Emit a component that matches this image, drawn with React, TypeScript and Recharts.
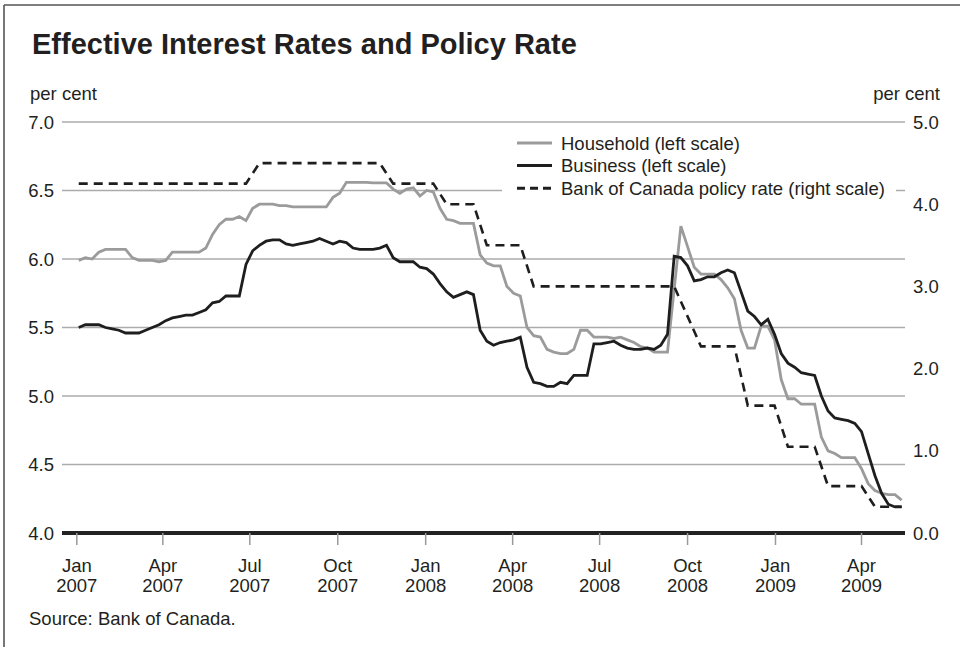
import React from 'react';
import { LineChart, Line, XAxis, YAxis, CartesianGrid, Legend } from 'recharts';

// Weekly observations (Wednesdays), first one on 3 Jan 2007 = day 2 counted from 1 Jan 2007
const FIRST_OBS_DAY = 2;
const DAYS_PER_WEEK = 7;

// Household effective interest rate (left scale, per cent), weekly
const household = [
  5.99, 6.01, 6.0, 6.05, 6.07, 6.07, 6.07, 6.07, 6.01, 5.99,
  5.99, 5.99, 5.98, 5.99, 6.05, 6.05, 6.05, 6.05, 6.05, 6.08,
  6.18, 6.25, 6.29, 6.29, 6.31, 6.28, 6.37, 6.4, 6.4, 6.4,
  6.39, 6.39, 6.38, 6.38, 6.38, 6.38, 6.38, 6.38, 6.45, 6.48,
  6.56, 6.56, 6.56, 6.56, 6.555, 6.555, 6.555, 6.51, 6.48, 6.51,
  6.52, 6.46, 6.5, 6.49, 6.37, 6.29, 6.28, 6.26, 6.26, 6.26,
  6.03, 5.97, 5.95, 5.95, 5.8, 5.75, 5.73, 5.5, 5.44, 5.43,
  5.34, 5.32, 5.31, 5.31, 5.34, 5.48, 5.48, 5.43, 5.43, 5.43,
  5.42, 5.43, 5.41, 5.39, 5.36, 5.35, 5.32, 5.32, 5.32, 5.78,
  6.24, 6.09, 5.94, 5.89, 5.89, 5.89, 5.85, 5.79, 5.71, 5.48,
  5.35, 5.35, 5.51, 5.51, 5.41, 5.12, 4.98, 4.98, 4.94, 4.94,
  4.94, 4.7, 4.6, 4.58, 4.55, 4.55, 4.55, 4.47, 4.36, 4.31,
  4.29, 4.28, 4.28, 4.24,
];

// Business effective interest rate (left scale, per cent), weekly
const business = [
  5.5, 5.52, 5.52, 5.52, 5.5, 5.49, 5.48, 5.46, 5.46, 5.46,
  5.48, 5.5, 5.52, 5.55, 5.57, 5.58, 5.59, 5.59, 5.61, 5.63,
  5.68, 5.69, 5.73, 5.73, 5.73, 5.96, 6.06, 6.1, 6.13, 6.14,
  6.14, 6.11, 6.1, 6.11, 6.12, 6.13, 6.15, 6.13, 6.11, 6.13,
  6.12, 6.08, 6.07, 6.07, 6.07, 6.08, 6.1, 6.01, 5.98, 5.98,
  5.98, 5.94, 5.93, 5.89, 5.82, 5.76, 5.72, 5.74, 5.76, 5.74,
  5.48, 5.4, 5.37, 5.39, 5.4, 5.41, 5.43, 5.21, 5.1, 5.09,
  5.07, 5.07, 5.1, 5.09, 5.15, 5.15, 5.15, 5.38, 5.38, 5.39,
  5.4, 5.37, 5.35, 5.34, 5.34, 5.35, 5.34, 5.37, 5.45, 6.02,
  6.01, 5.95, 5.84, 5.85, 5.87, 5.87, 5.9, 5.92, 5.9, 5.76,
  5.62, 5.58, 5.52, 5.56, 5.45, 5.31, 5.24, 5.21, 5.17, 5.16,
  5.15, 5.0, 4.89, 4.84, 4.83, 4.82, 4.8, 4.74, 4.58, 4.42,
  4.29, 4.21, 4.19, 4.19,
];

// Bank of Canada policy rate (right scale): week index of each corner and the rate there
const policyWeeks = [0, 25, 27, 45, 47, 53, 55, 59, 61, 66, 68, 89, 93, 98, 100, 104, 106, 110, 112, 117, 119, 123];
const policyRates = [4.25, 4.25, 4.5, 4.5, 4.25, 4.25, 4.0, 4.0, 3.5, 3.5, 3.0, 3.0, 2.27, 2.27, 1.55, 1.55, 1.05, 1.05, 0.57, 0.57, 0.32, 0.32];

// X ticks: first of Jan/Apr/Jul/Oct, in days since 1 Jan 2007
const tickDays = [0, 90, 181, 273, 365, 456, 547, 639, 731, 821];
const tickMonths = ['Jan', 'Apr', 'Jul', 'Oct', 'Jan', 'Apr', 'Jul', 'Oct', 'Jan', 'Apr'];
const tickYears = ['2007', '2007', '2007', '2007', '2008', '2008', '2008', '2008', '2009', '2009'];
const leftTicks = [4.0, 4.5, 5.0, 5.5, 6.0, 6.5, 7.0];
const rightTicks = [0, 1, 2, 3, 4, 5];

const seriesNames = {
  household: 'Household (left scale)',
  business: 'Business (left scale)',
  policy: 'Bank of Canada policy rate (right scale)',
};
const legendOrder = [seriesNames.household, seriesNames.business, seriesNames.policy];

const weeklyRows = household.map((h, i) => ({
  day: FIRST_OBS_DAY + DAYS_PER_WEEK * i,
  household: h,
  business: business[i],
}));
const policyRows = policyWeeks.map((w, i) => ({
  day: FIRST_OBS_DAY + DAYS_PER_WEEK * w,
  policy: policyRates[i],
}));

const FONT = "'Liberation Sans', Arial, Helvetica, sans-serif";
const TEXT = '#231f20';
const GRAY = '#9b9b9b';
const BLACK = '#1e1e1e';
const GRID = '#ababab';
const FS = 18.5;
const DASH = '9 6';

const DateTick = (props: any) => {
  const { x, y, payload } = props;
  const idx = tickDays.indexOf(payload.value);
  return (
    <text x={x} y={y} textAnchor="middle" fontSize={FS} fill={TEXT} fontFamily={FONT}>
      <tspan x={x} dy={24.5}>{tickMonths[idx]}</tspan>
      <tspan x={x} dy={20}>{tickYears[idx]}</tspan>
    </text>
  );
};

const LegendBox = (props: any) => {
  const payload = [...(props.payload || [])].sort(
    (a: any, b: any) => legendOrder.indexOf(a.value) - legendOrder.indexOf(b.value)
  );
  return (
    <svg width={394} height={72} style={{ display: 'block', background: '#fff' }}>
      {payload.map((entry: any, i: number) => {
        const cy = 14 + i * 22.6;
        const dash = entry.payload && entry.payload.strokeDasharray;
        return (
          <g key={i}>
            <line x1={15} x2={50} y1={cy} y2={cy} stroke={entry.color} strokeWidth={3} strokeDasharray={dash ? '8 5' : undefined} />
            <text x={59} y={cy + 6.6} fontSize={FS} fill={TEXT} fontFamily={FONT}>
              {entry.value}
            </text>
          </g>
        );
      })}
    </svg>
  );
};

export default function App() {
  return (
    <div style={{ position: 'absolute', left: 0, top: 0, width: 960, height: 647, background: '#fff', overflow: 'hidden' }}>
      <LineChart
        width={960}
        height={647}
        data={weeklyRows}
        margin={{ top: 122, right: 0, bottom: 0, left: 0 }}
      >
        <CartesianGrid yAxisId="left" vertical={false} stroke={GRID} strokeWidth={1.6} />
        <XAxis
          dataKey="day"
          type="number"
          domain={[-15.5, 866.5]}
          ticks={tickDays}
          interval={0}
          height={114}
          tickSize={12}
          tickMargin={2}
          tick={<DateTick />}
          tickLine={{ stroke: '#9a9a9a', strokeWidth: 1.5 }}
          axisLine={{ stroke: '#222', strokeWidth: 4 }}
        />
        <YAxis
          yAxisId="left"
          orientation="left"
          domain={[4, 7]}
          ticks={leftTicks}
          interval={0}
          width={62}
          axisLine={false}
          tickLine={false}
          tickFormatter={(v: number) => v.toFixed(1)}
          tick={{ fontSize: FS, fill: TEXT, fontFamily: FONT }}
        />
        <YAxis
          yAxisId="right"
          orientation="right"
          domain={[0, 5]}
          ticks={rightTicks}
          interval={0}
          width={55}
          axisLine={false}
          tickLine={false}
          tickFormatter={(v: number) => v.toFixed(1)}
          tick={{ fontSize: FS, fill: TEXT, fontFamily: FONT, textAnchor: 'start' }}
        />
        <Line
          yAxisId="left"
          dataKey="household"
          name={seriesNames.household}
          type="linear"
          stroke={GRAY}
          strokeWidth={2.8}
          dot={false}
          activeDot={false}
          isAnimationActive={false}
        />
        <Line
          yAxisId="left"
          dataKey="business"
          name={seriesNames.business}
          type="linear"
          stroke={BLACK}
          strokeWidth={2.8}
          dot={false}
          activeDot={false}
          isAnimationActive={false}
        />
        <Line
          yAxisId="right"
          data={policyRows}
          dataKey="policy"
          name={seriesNames.policy}
          type="linear"
          stroke={BLACK}
          strokeWidth={2.6}
          strokeDasharray={DASH}
          dot={false}
          activeDot={false}
          isAnimationActive={false}
        />
        <Legend
          layout="vertical"
          align="center"
          verticalAlign="middle"
          content={<LegendBox />}
          wrapperStyle={{ position: 'absolute', left: 502, top: 129, width: 394, height: 72, background: '#fff' }}
        />
      </LineChart>
      <svg
        width={960}
        height={647}
        style={{ position: 'absolute', left: 0, top: 0, pointerEvents: 'none' }}
      >
        <line x1={4} x2={960} y1={5} y2={5} stroke="#555" strokeWidth={1.6} />
        <line x1={4} x2={4} y1={5} y2={647} stroke="#555" strokeWidth={1.6} />
        <text x={32} y={54} fontSize={29} fontWeight="bold" fill={TEXT} fontFamily={FONT}>
          Effective Interest Rates and Policy Rate
        </text>
        <text x={30} y={100} fontSize={FS} fill={TEXT} fontFamily={FONT}>
          per cent
        </text>
        <text x={940} y={100} fontSize={FS} fill={TEXT} fontFamily={FONT} textAnchor="end">
          per cent
        </text>
        <text x={29} y={624.5} fontSize={FS} fill={TEXT} fontFamily={FONT}>
          Source: Bank of Canada.
        </text>
      </svg>
    </div>
  );
}
